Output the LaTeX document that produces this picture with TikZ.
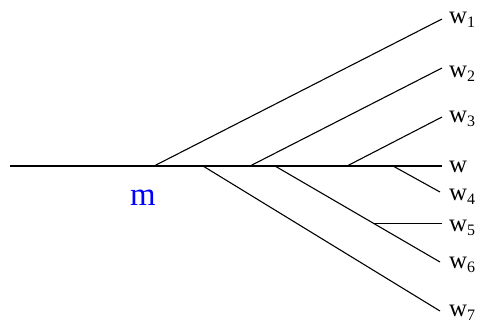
\documentclass[tikz,border=0pt]{standalone}
\usepackage{fontspec}
\setmainfont{Liberation Serif}
\usetikzlibrary{calc}
\newcommand{\wlab}[1]{w\raisebox{-4bp}{\fontsize{16}{16}\selectfont #1}}
\begin{document}
\begin{tikzpicture}[x=1bp,y=-1bp,
  branch/.style={line width=1.1pt},
  trunk/.style={line width=1.4pt},
  wlabel/.style={anchor=base west,inner sep=0pt,font=\fontsize{25}{25}\selectfont},
  mlabel/.style={anchor=base,inner sep=0pt,text=blue,font=\fontsize{33}{33}\selectfont}]
\useasboundingbox (0,0) rectangle (481,322);
% trunk
\coordinate (s) at (10,166);
\coordinate (e) at (442,166);
% branch points
\coordinate (b1) at (154,166);
\coordinate (b7) at (203,166);
\coordinate (b2) at (250,166);
\coordinate (b6) at (275,166);
\coordinate (b3) at (347,166);
\coordinate (b4) at (393,166);
% ends
\coordinate (e1) at (442,19);
\coordinate (e2) at (442,68);
\coordinate (e3) at (442,117);
\coordinate (e4) at (440,192);
\coordinate (e5) at (442,222);
\coordinate (e6) at (440,262);
\coordinate (e7) at (440,311);
\coordinate (b5) at ($(b6)!0.595!(e6)$);
\draw[trunk] (s) -- (e);
\draw[branch] (b1) -- (e1);
\draw[branch] (b2) -- (e2);
\draw[branch] (b3) -- (e3);
\draw[branch] (b4) -- (e4);
\draw[branch] (b6) -- (e6);
\draw[branch] (b7) -- (e7);
\draw[branch] (b5) -- (e5 |- b5);
% labels
\node[wlabel] (l1) at (449,23) {\wlab{1}};
\node[wlabel] (l2) at (449,77) {\wlab{2}};
\node[wlabel] (l3) at (449,122) {\wlab{3}};
\node[wlabel] (l0) at (449,172) {w};
\node[wlabel] (l4) at (449,200) {\wlab{4}};
\node[wlabel] (l5) at (449,231) {\wlab{5}};
\node[wlabel] (l6) at (449,268) {\wlab{6}};
\node[wlabel] (l7) at (449,316) {\wlab{7}};
\node[mlabel] (m) at (143,205) {m};
\end{tikzpicture}
\end{document}
